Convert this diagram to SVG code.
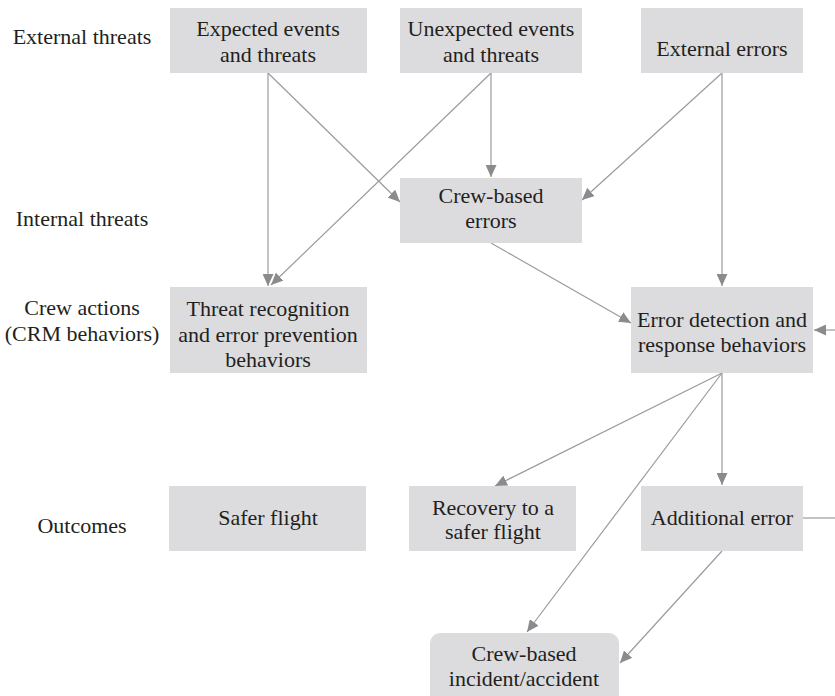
<svg xmlns="http://www.w3.org/2000/svg" width="835" height="696" viewBox="0 0 835 696">
  <style>
    .box { fill: #dcdcde; }
    .t { font-size: 22px; fill: #231f20; text-anchor: middle; }
    .edge { stroke: #9b9b9d; stroke-width: 1.2; fill: none; }
    .arrow { marker-end: url(#head); }
  </style>
  <defs>
    <marker id="head" markerUnits="userSpaceOnUse" markerWidth="12" markerHeight="11" refX="12" refY="5.5" orient="auto">
      <path d="M0,0 L12,5.5 L0,11 z" fill="#8b8b8e"/>
    </marker>
  </defs>

  <g font-family="Liberation Serif, DejaVu Serif, serif">
  <!-- row labels -->
  <g id="row-labels">
    <text class="t" x="82" y="44">External threats</text>
    <text class="t" x="82" y="226">Internal threats</text>
    <text class="t" x="82" y="315">Crew actions</text>
    <text class="t" x="82" y="341">(CRM behaviors)</text>
    <text class="t" x="82" y="533">Outcomes</text>
  </g>

  <!-- connectors -->
  <g id="connectors">
    <line class="edge arrow" x1="268" y1="73" x2="268" y2="286"/>
    <line class="edge arrow" x1="268" y1="73" x2="400" y2="202"/>
    <line class="edge arrow" x1="491" y1="73" x2="271" y2="285"/>
    <line class="edge arrow" x1="491" y1="73" x2="491" y2="177"/>
    <line class="edge arrow" x1="722" y1="73" x2="582" y2="200"/>
    <line class="edge arrow" x1="722" y1="73" x2="722" y2="286"/>
    <line class="edge arrow" x1="491" y1="243" x2="631" y2="323"/>
    <line class="edge arrow" x1="835" y1="330" x2="814" y2="330"/>
    <line class="edge arrow" x1="722" y1="373" x2="495" y2="486"/>
    <line class="edge arrow" x1="722" y1="373" x2="722" y2="485"/>
    <line class="edge arrow" x1="722" y1="373" x2="527" y2="632"/>
    <line class="edge arrow" x1="722" y1="551" x2="620" y2="663"/>
    <line class="edge" x1="803" y1="518" x2="835" y2="518"/>
  </g>

  <g id="expected">
    <rect class="box" x="170" y="8" width="197" height="65"/>
    <text class="t" x="268" y="36">Expected events</text>
    <text class="t" x="268" y="62">and threats</text>
  </g>
  <g id="unexpected">
    <rect class="box" x="400" y="8" width="182" height="65"/>
    <text class="t" x="491" y="36">Unexpected events</text>
    <text class="t" x="491" y="62">and threats</text>
  </g>
  <g id="external-errors">
    <rect class="box" x="641" y="8" width="162" height="65"/>
    <text class="t" x="722" y="56">External errors</text>
  </g>
  <g id="crew-errors">
    <rect class="box" x="400" y="178" width="182" height="65"/>
    <text class="t" x="491" y="203">Crew-based</text>
    <text class="t" x="491" y="228">errors</text>
  </g>
  <g id="threat-recognition">
    <rect class="box" x="170" y="287" width="197" height="86"/>
    <text class="t" x="268" y="316">Threat recognition</text>
    <text class="t" x="268" y="342">and error prevention</text>
    <text class="t" x="268" y="367">behaviors</text>
  </g>
  <g id="error-detection">
    <rect class="box" x="631" y="287" width="182" height="86"/>
    <text class="t" x="722" y="327">Error detection and</text>
    <text class="t" x="722" y="352">response behaviors</text>
  </g>
  <g id="safer-flight">
    <rect class="box" x="169" y="486" width="197" height="65"/>
    <text class="t" x="268" y="525">Safer flight</text>
  </g>
  <g id="recovery">
    <rect class="box" x="409" y="486" width="167" height="65"/>
    <text class="t" x="493" y="515">Recovery to a</text>
    <text class="t" x="493" y="539">safer flight</text>
  </g>
  <g id="additional-error">
    <rect class="box" x="641" y="486" width="162" height="65"/>
    <text class="t" x="722" y="525">Additional error</text>
  </g>
  <g id="incident">
    <rect class="box" x="430" y="633" width="189" height="74" rx="10" ry="10"/>
    <text class="t" x="524" y="661">Crew-based</text>
    <text class="t" x="524" y="686">incident/accident</text>
  </g>
  </g>
</svg>
